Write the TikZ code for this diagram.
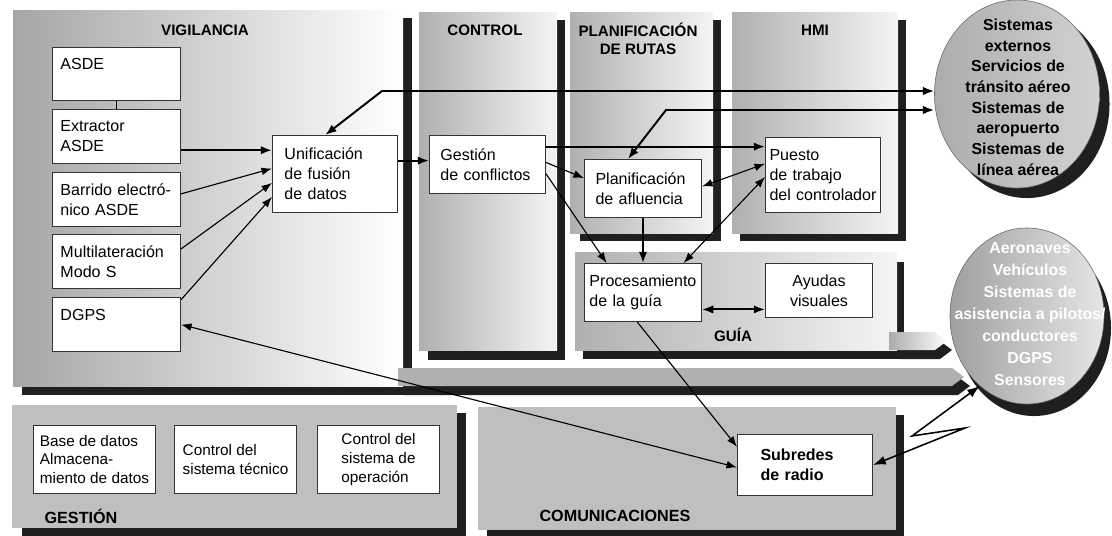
\documentclass[tikz,border=0pt]{standalone}
\usepackage{fontspec}
\setmainfont{Liberation Sans}
\usetikzlibrary{arrows.meta,shapes.geometric}

\tikzset{
    box/.style={draw=black!80, line width=0.7pt, fill=white, anchor=north west, align=left,
        inner ysep=0pt, font=\fontsize{11.4}{14.2}\selectfont},
    vbox/.style={box, text width=2.8cm, inner xsep=0.2cm, minimum height=1.35cm},
    gbox/.style={box, inner xsep=0pt, minimum width=3.05cm, minimum height=1.7cm,
        font=\fontsize{10.9}{13.5}\selectfont},
    title/.style={font=\bfseries\fontsize{10.8}{12.8}\selectfont, align=center, inner sep=0pt},
    shadowfill/.style={fill=black!88},
    vigpanel/.style={left color=gray!70, right color=white},
    panel/.style={left color=gray!62, right color=black!4},
    band/.style={fill=gray!62},
    stub/.style={left color=gray!65, right color=white},
    flatpanel/.style={fill=gray!50},
    circ/.style={ellipse, inner sep=0pt},
    circtext/.style={font=\bfseries\fontsize{11.3}{14.7}\selectfont, align=center, inner sep=0pt},
    conn/.style={line width=1.4pt, ->, >={Latex[length=8pt,width=6pt]}},
    biconn/.style={conn, <->},
    thinconn/.style={line width=0.8pt, ->, >={Latex[length=7.5pt,width=5.5pt]}},
    thinbiconn/.style={thinconn, <->},
    bolt/.style={line width=1.1pt, <->, >={Latex[length=9pt,width=6.5pt]}},
}

\begin{document}
\begin{tikzpicture}[x=0.025cm, y=-0.025cm]
    \useasboundingbox (0,0) rectangle (1112,535);

    \fill[shadowfill] (22,18) rectangle (412,395);
    \fill[shadowfill] (404,377) -- (958,377) -- (970,386) -- (958,395) -- (404,395) -- cycle;
    \fill[shadowfill] (428,20) rectangle (565,360);
    \fill[shadowfill] (580,20) rectangle (721,241);
    \fill[shadowfill] (740,20) rectangle (906,241);
    \fill[shadowfill] (583,262) rectangle (904,359);
    \fill[shadowfill] (900,341) -- (940,341) -- (952,350) -- (940,359) -- (900,359) -- cycle;
    \fill[shadowfill] (22,413) rectangle (466,540);
    \fill[shadowfill] (487,415) rectangle (904,540);

    \shade[vigpanel] (13,10) rectangle (403,386);
    \fill[band] (398,368) -- (952,368) -- (964,377) -- (952,386) -- (398,386) -- cycle;
    \shade[panel] (419,12) rectangle (557,350);
    \shade[panel] (570,12) rectangle (713,233);
    \shade[panel] (732,12) rectangle (898,233);
    \shade[panel] (575,252) rectangle (897,350);
    \shade[stub] (889,332) -- (935,332) -- (947,341) -- (935,350) -- (889,350) -- cycle;
    \fill[flatpanel] (12,405) rectangle (457,528);
    \fill[flatpanel] (478,407) rectangle (896,530);

    \node[circ, shadowfill, minimum width=4.125cm, minimum height=4.7cm] (extsh) at (1027,104) {};
    \node[circ, draw=black!60, left color=gray!65, right color=gray!35,
        minimum width=4.125cm, minimum height=4.7cm] (ext) at (1017,94) {};
    \node[circtext] (exttext) at (1018,97) {Sistemas\\externos\\Servicios de\\tránsito aéreo\\Sistemas de\\aeropuerto\\Sistemas de\\línea aérea};
    \node[circ, shadowfill, minimum width=3.85cm, minimum height=4.4cm] (aerosh) at (1034,328) {};
    \node[circ, draw=black!60, left color=gray!75, right color=gray!20,
        minimum width=3.85cm, minimum height=4.4cm] (aero) at (1027,316) {};
    \node[circtext, text=white, font=\bfseries\fontsize{11.3}{15.6}\selectfont] (aerotext) at (1030,314)
        {Aeronaves\\Vehículos\\Sistemas de\\asistencia a pilotos/\\conductores\\DGPS\\Sensores};

    \node[title] (vigtitle) at (205,30) {VIGILANCIA};
    \node[title] (ctrltitle) at (485,30) {CONTROL};
    \node[title] (plantitle) at (638,39) {PLANIFICACIÓN\\DE RUTAS};
    \node[title] (hmititle) at (815,30) {HMI};
    \node[title] (guiatitle) at (733,335) {GUÍA};
    \node[title, font=\bfseries\fontsize{11.5}{13}\selectfont] (gesttitle) at (81,516) {GESTIÓN};
    \node[title, font=\bfseries\fontsize{11.5}{13}\selectfont] (comtitle) at (615,516) {COMUNICACIONES};

    \node[vbox, minimum height=1.325cm] (asde) at (52,47) {ASDE\\~};
    \node[vbox] (extractor) at (52,109) {Extractor\\ASDE};
    \node[vbox] (barrido) at (52,172) {Barrido electró-\\nico ASDE};
    \node[vbox] (multilat) at (52,234) {Multilateración\\Modo S};
    \node[vbox] (dgps) at (52,297) {DGPS\\~};
    \node[box, text width=2.525cm, inner xsep=0.3cm, minimum height=1.925cm] (unif) at (272,135)
        {Unificación\\de fusión\\de datos};
    \node[box, text width=2.35cm, inner xsep=0.275cm, minimum height=1.45cm] (gestion) at (429,135)
        {Gestión\\de conflictos};
    \node[box, text width=2.375cm, inner xsep=0.275cm, minimum height=1.45cm] (planaf) at (584,159)
        {Planificación\\de afluencia};
    \node[box, text width=2.675cm, inner xsep=0.1cm, minimum height=1.875cm] (puesto) at (765,137)
        {Puesto\\de trabajo\\del controlador};
    \node[box, text width=2.675cm, inner xsep=0.125cm, minimum height=1.45cm] (proc) at (584,263)
        {Procesamiento\\de la guía};
    \node[box, align=center, text width=2.425cm, inner xsep=0.125cm, minimum height=1.35cm] (ayudas) at (765,263)
        {Ayudas\\visuales};
    \node[gbox] (bd) at (33,425) {Base de datos\\Almacena-\\miento de datos};
    \node[gbox] (ctec) at (174,425) {Control del\\sistema técnico};
    \node[gbox] (cop) at (317,425) {Control del\\sistema de\\operación};
    \node[box, text width=2.225cm, inner xsep=0.575cm, minimum height=1.525cm,
        font=\bfseries\fontsize{11.4}{14.2}\selectfont] (subred) at (737,434) {Subredes\\de radio};

    \draw[line width=0.8pt] (asde.south) -- (extractor.north);
    \draw[conn] (extractor.-12) -- (extractor.-12 -| unif.west);
    \draw[thinconn] (barrido.5) -- (unif.175);
    \draw[thinconn] (multilat.11) -- (unif.188);
    \draw[thinconn] (dgps.21) -- (unif.200);

    \coordinate (k1) at (382,91);
    \draw[biconn] (unif.104) -- (k1) -- (ext.west |- k1);
    \coordinate (k2) at (666,110);
    \draw[biconn] (planaf.117) -- (k2) -- (ext.west |- k2);

    \draw[conn] (unif.12) -- (unif.12 -| gestion.west);
    \draw[conn] (gestion.17) -- (gestion.17 -| puesto.west);
    \draw[thinconn] (gestion.2) -- (planaf.170);
    \draw[thinconn] (gestion.-9) -- (proc.141);
    \draw[conn] (planaf.south) -- (proc.north);
    \draw[thinbiconn] (puesto.182) -- (proc.36);
    \draw[thinbiconn] (puesto.169) -- (planaf.2);
    \draw[biconn] (proc.-16) -- (proc.-16 -| ayudas.west);

    \draw[thinconn] (proc.259) -- (subred.165);
    \draw[thinbiconn] (dgps.east) -- (subred.182);

    \coordinate (z1) at (965,428);
    \coordinate (z2) at (912,436);
    \draw[bolt] (subred.east) -- (z1) -- (z2) -- (aero.236);
\end{tikzpicture}
\end{document}
